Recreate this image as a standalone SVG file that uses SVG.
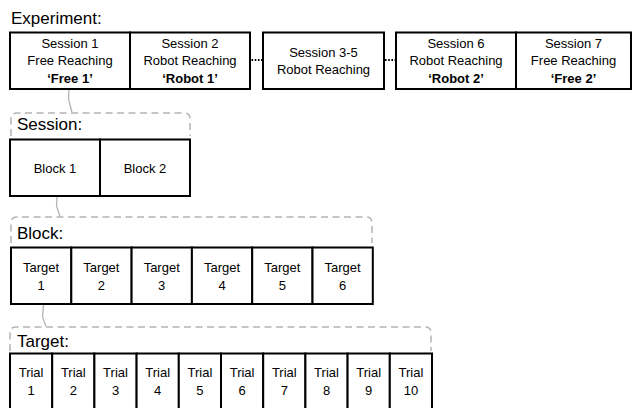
<svg xmlns="http://www.w3.org/2000/svg" width="632" height="408" viewBox="0 0 632 408">
<style>
.box{fill:#fff;stroke:#000;stroke-width:2}
.t{font-family:"Liberation Sans",Arial,sans-serif;font-size:13px;fill:#000;text-anchor:middle}
.b{font-weight:bold}
.h{font-family:"Liberation Sans",Arial,sans-serif;font-size:17px;fill:#000}
.br{fill:none;stroke:#b4b4b4;stroke-width:1.5;stroke-dasharray:7,4.5}
.con{fill:none;stroke:#b4b4b4;stroke-width:1.3}
.dots{fill:none;stroke:#000;stroke-width:2;stroke-dasharray:1.6,1.6}
</style>
<rect width="632" height="408" fill="#fff"/>
<text class="h" x="11" y="24">Experiment:</text>
<g id="session1"><rect class="box" x="10" y="32.5" width="120" height="56.5"/><text class="t" x="70" y="47.5">Session 1</text><text class="t" x="70" y="65">Free Reaching</text><text class="t b" x="70" y="82.5">‘Free 1’</text></g>
<g id="session2"><rect class="box" x="130" y="32.5" width="120" height="56.5"/><text class="t" x="190" y="47.5">Session 2</text><text class="t" x="190" y="65">Robot Reaching</text><text class="t b" x="190" y="82.5">‘Robot 1’</text></g>
<g id="session3-5"><rect class="box" x="263" y="32.5" width="121" height="56.5"/><text class="t" x="323.5" y="56.5">Session 3-5</text><text class="t" x="323.5" y="74">Robot Reaching</text></g>
<g id="session6"><rect class="box" x="396" y="32.5" width="120" height="56.5"/><text class="t" x="456" y="47.5">Session 6</text><text class="t" x="456" y="65">Robot Reaching</text><text class="t b" x="456" y="82.5">‘Robot 2’</text></g>
<g id="session7"><rect class="box" x="516" y="32.5" width="115" height="56.5"/><text class="t" x="573.5" y="47.5">Session 7</text><text class="t" x="573.5" y="65">Free Reaching</text><text class="t b" x="573.5" y="82.5">‘Free 2’</text></g>

<g id="session-detail">
<path class="br" d="M11,136 V119 Q11,113 17,113 H184 Q190,113 190,119 V136"/>
<text class="h" x="17" y="130">Session:</text>
</g>
<g id="block1"><rect class="box" x="10" y="139.5" width="90" height="56.5"/><text class="t" x="55" y="172.5">Block 1</text></g>
<g id="block2"><rect class="box" x="100" y="139.5" width="90" height="56.5"/><text class="t" x="145" y="172.5">Block 2</text></g>

<g id="block-detail">
<path class="br" d="M11,243 V223 Q11,217 17,217 H366 Q372,217 372,223 V243"/>
<text class="h" x="17" y="238.5">Block:</text>
</g>
<g id="target1"><rect class="box" x="11" y="247.5" width="60.3" height="56.5"/><text class="t" x="41.1" y="272">Target</text><text class="t" x="41.1" y="289.5">1</text></g>
<g id="target2"><rect class="box" x="71.3" y="247.5" width="60.3" height="56.5"/><text class="t" x="101.4" y="272">Target</text><text class="t" x="101.4" y="289.5">2</text></g>
<g id="target3"><rect class="box" x="131.6" y="247.5" width="60.3" height="56.5"/><text class="t" x="161.7" y="272">Target</text><text class="t" x="161.7" y="289.5">3</text></g>
<g id="target4"><rect class="box" x="191.9" y="247.5" width="60.3" height="56.5"/><text class="t" x="222" y="272">Target</text><text class="t" x="222" y="289.5">4</text></g>
<g id="target5"><rect class="box" x="252.2" y="247.5" width="60.3" height="56.5"/><text class="t" x="282.3" y="272">Target</text><text class="t" x="282.3" y="289.5">5</text></g>
<g id="target6"><rect class="box" x="312.5" y="247.5" width="60.3" height="56.5"/><text class="t" x="342.6" y="272">Target</text><text class="t" x="342.6" y="289.5">6</text></g>

<g id="target-detail">
<path class="br" d="M10,351 V333 Q10,327 16,327 H425 Q431,327 431,333 V351"/>
<text class="h" x="17" y="346.5">Target:</text>
</g>
<g id="trial1"><rect class="box" x="10" y="353.5" width="42.2" height="60"/><text class="t" x="31.1" y="377">Trial</text><text class="t" x="31.1" y="395">1</text></g>
<g id="trial2"><rect class="box" x="52.2" y="353.5" width="42.2" height="60"/><text class="t" x="73.3" y="377">Trial</text><text class="t" x="73.3" y="395">2</text></g>
<g id="trial3"><rect class="box" x="94.4" y="353.5" width="42.2" height="60"/><text class="t" x="115.5" y="377">Trial</text><text class="t" x="115.5" y="395">3</text></g>
<g id="trial4"><rect class="box" x="136.6" y="353.5" width="42.2" height="60"/><text class="t" x="157.7" y="377">Trial</text><text class="t" x="157.7" y="395">4</text></g>
<g id="trial5"><rect class="box" x="178.8" y="353.5" width="42.2" height="60"/><text class="t" x="199.9" y="377">Trial</text><text class="t" x="199.9" y="395">5</text></g>
<g id="trial6"><rect class="box" x="221" y="353.5" width="42.2" height="60"/><text class="t" x="242.1" y="377">Trial</text><text class="t" x="242.1" y="395">6</text></g>
<g id="trial7"><rect class="box" x="263.2" y="353.5" width="42.2" height="60"/><text class="t" x="284.3" y="377">Trial</text><text class="t" x="284.3" y="395">7</text></g>
<g id="trial8"><rect class="box" x="305.4" y="353.5" width="42.2" height="60"/><text class="t" x="326.5" y="377">Trial</text><text class="t" x="326.5" y="395">8</text></g>
<g id="trial9"><rect class="box" x="347.6" y="353.5" width="42.2" height="60"/><text class="t" x="368.7" y="377">Trial</text><text class="t" x="368.7" y="395">9</text></g>
<g id="trial10"><rect class="box" x="389.8" y="353.5" width="42.2" height="60"/><text class="t" x="410.9" y="377">Trial</text><text class="t" x="410.9" y="395">10</text></g>

<g id="connectors">
<path class="dots" d="M251.5,60 H262"/>
<path class="dots" d="M385,60 H395"/>
<path class="con" d="M69,90 L68.5,99 L72,112.5"/>
<path class="con" d="M57,197 L56.5,206 L60,216.5"/>
<path class="con" d="M43.5,305 L42.5,317 L46,326.5"/>
</g>
</svg>
